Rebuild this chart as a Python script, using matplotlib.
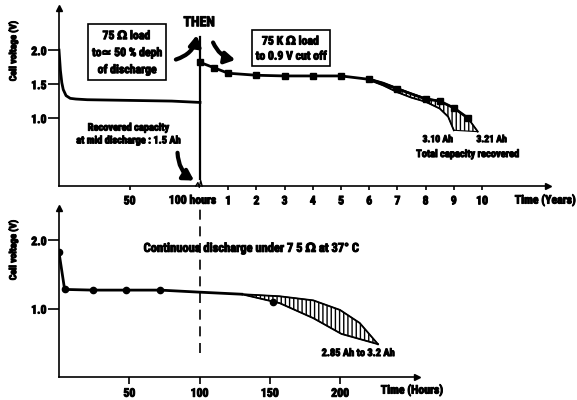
import numpy as np
import matplotlib
matplotlib.use('Agg')
import matplotlib.pyplot as plt
import matplotlib.patheffects as pe
from matplotlib.lines import Line2D
from matplotlib.text import Text

plt.rcParams['font.family'] = ['Roboto Condensed', 'Liberation Sans Narrow', 'DejaVu Sans']
plt.rcParams['font.weight'] = 'bold'

# --- upper panel: 75 ohm load for ~100 hours, then 75 kohm load for years ---
hours_a = [0, 0.5, 1, 2, 3, 5, 8, 12, 20, 50, 80, 100]
volts_a = [2.0, 1.85, 1.7, 1.52, 1.42, 1.33, 1.29, 1.28, 1.27, 1.26, 1.25, 1.23]

years_b = [0, 0.5, 1, 2, 3, 4, 5, 6, 7, 8, 8.5, 9, 9.5]
volts_b = [1.82, 1.74, 1.66, 1.63, 1.62, 1.62, 1.62, 1.57, 1.43, 1.28, 1.25, 1.15, 1.0]

band_up_years = [6, 6.5, 7, 7.5, 8, 8.5, 9, 9.5, 9.85]
band_up_volts = [1.58, 1.52, 1.44, 1.36, 1.29, 1.25, 1.15, 1.0, 0.80]
band_lo_years = [6, 6.5, 7, 7.5, 8, 8.5, 8.8, 9.0]
band_lo_volts = [1.56, 1.48, 1.38, 1.30, 1.24, 1.14, 1.02, 0.82]

year_ticks = [1, 2, 3, 4, 5, 6, 7, 8, 9, 10]

# --- lower panel: continuous discharge under 75 ohm at 37 C ---
hours_c = [0, 4, 24, 48, 72, 100, 130]
volts_c = [1.82, 1.28, 1.27, 1.27, 1.27, 1.24, 1.21]
mark_hours_c = [0, 4, 24, 48, 72, 152]
mark_volts_c = [1.82, 1.28, 1.27, 1.27, 1.27, 1.10]

band2_up_hours = [130, 157, 181, 200, 214, 227]
band2_up_volts = [1.21, 1.18, 1.12, 0.98, 0.79, 0.48]
band2_lo_hours = [130, 157, 181, 201]
band2_lo_volts = [1.21, 1.08, 0.86, 0.63]


def yr(a):
    # years are drawn after the 100 hour break, 20 axis units per year
    return 100 + 20 * np.asarray(a, dtype=float)


def style_axes(ax):
    for s in ['top', 'right']:
        ax.spines[s].set_visible(False)
    for s in ['left', 'bottom']:
        ax.spines[s].set_linewidth(1.2)
    ax.plot(0, 1, '^k', ms=4, transform=ax.get_xaxis_transform(), clip_on=False)
    ax.plot(1, 0, '>k', ms=4, transform=ax.get_yaxis_transform(), clip_on=False)
    ax.tick_params(axis='both', direction='out', width=1.2, labelsize=8.5)
    for lab in ax.get_xticklabels() + ax.get_yticklabels():
        lab.set_fontweight('bold')


fig = plt.figure(figsize=(5.77, 4.0), dpi=100)

# ---------------- upper panel ----------------
ax1 = fig.add_axes([59 / 577, 1 - 186 / 400, 489 / 577, 178 / 400])
ax1.set_xlim(0, 346.8)
ax1.set_ylim(0, 2.62)

ax1.plot(hours_a, volts_a, color='k', lw=2)
ax1.plot(yr(years_b), volts_b, color='k', lw=2, marker='s', ms=4)
ax1.plot(yr(band_up_years), band_up_volts, color='k', lw=1.3)
ax1.plot(yr(band_lo_years), band_lo_volts, color='k', lw=1.3)
ax1.fill(np.concatenate([yr(band_up_years), yr(band_lo_years)[::-1]]),
         np.concatenate([band_up_volts, band_lo_volts[::-1]]),
         fill=False, hatch='||||', lw=0.8, edgecolor='k')

# switch of load at the end of the hours scale
ax1.plot([100, 100], [0.1, 2.2], color='k', lw=1.6)
ax1.plot([97, 98.5, 99.5, 100.5, 101.5], [0.0, 0.05, -0.02, 0.08, 0.0],
         color='k', lw=1, clip_on=False)

ax1.set_yticks([1.0, 1.5, 2.0])
ax1.set_yticklabels(['1.0', '1.5', '2.0'])
ax1.set_xticks([50] + list(yr(year_ticks)))
ax1.set_xticklabels(['50'] + [str(t) for t in year_ticks])
style_axes(ax1)
ax1.tick_params(axis='x', length=3, pad=3)
ax1.tick_params(axis='y', length=8, pad=1)

ax1.text(94.5, -0.08, '100 hours', transform=ax1.get_xaxis_transform(),
         ha='center', va='center', fontsize=8.5, fontweight='bold')
fig.text(0.998, 1 - 200 / 400, 'Time (Years)', ha='right', va='center',
         fontsize=8.5, fontweight='bold')

ax1.text(48.2, 1.97, '75 $\\Omega$ load\nto\u2243 50 % deph\nof discharge',
         ha='center', va='center', fontsize=8.5, fontweight='bold', linespacing=1.4,
         bbox=dict(boxstyle='square,pad=0.35', fc='white', ec='k', lw=1.2))
ax1.text(99.3, 2.41, 'THEN', ha='center', va='center', fontsize=10, fontweight='bold')
ax1.text(164.5, 2.03, '75 K $\\Omega$ load\nto 0.9 V cut off',
         ha='center', va='center', fontsize=8.5, fontweight='bold', linespacing=1.2,
         bbox=dict(boxstyle='square,pad=0.3', fc='white', ec='k', lw=1.2))
ax1.text(48.9, 0.765, 'Recovered capacity\nat mid discharge : 1.5 Ah',
         ha='center', va='center', fontsize=7.5, fontweight='bold', linespacing=1.35)
ax1.text(268.8, 0.69, '3.10 Ah', ha='center', va='center', fontsize=7, fontweight='bold')
ax1.text(307, 0.69, '3.21 Ah', ha='center', va='center', fontsize=7, fontweight='bold')
ax1.text(289.4, 0.47, 'Total capacity recovered', ha='center', va='center',
         fontsize=7.5, fontweight='bold')

arrow = dict(arrowstyle='-|>,head_length=0.6,head_width=0.35', color='k', lw=3)
ax1.annotate('', xy=(97.9, 2.26), xytext=(81, 1.85),
             arrowprops=dict(connectionstyle='arc3,rad=0.35', **arrow))
ax1.annotate('', xy=(127, 1.85), xytext=(108.5, 2.15),
             arrowprops=dict(connectionstyle='arc3,rad=0.3', **arrow))
ax1.annotate('', xy=(97.5, 0.06), xytext=(84, 0.53),
             arrowprops=dict(connectionstyle='arc3,rad=0.3', **arrow))

# ---------------- lower panel ----------------
ax2 = fig.add_axes([59 / 577, 1 - 377 / 400, 358 / 577, 169 / 400])
ax2.set_xlim(0, 254.8)
ax2.set_ylim(0, 2.47)

ax2.plot(hours_c, volts_c, color='k', lw=2)
ax2.plot(mark_hours_c, mark_volts_c, 'o', color='k', ms=4.5)
ax2.plot(band2_up_hours, band2_up_volts, color='k', lw=1.3)
ax2.plot(band2_lo_hours + [band2_up_hours[-1]], band2_lo_volts + [band2_up_volts[-1]],
         color='k', lw=1.3)
ax2.fill(band2_up_hours + band2_lo_hours[::-1], band2_up_volts + band2_lo_volts[::-1],
         fill=False, hatch='||||', lw=0.8, edgecolor='k')

ax2.add_line(Line2D([100, 100], [0.35, 2.54], color='k', lw=1.2,
                    linestyle=(0, (6, 4)), clip_on=False))

ax2.set_yticks([1.0, 2.0])
ax2.set_yticklabels(['1.0', '2.0'])
ax2.set_xticks([50, 100, 150, 200])
ax2.set_xticklabels(['50', '100', '150', '200'])
style_axes(ax2)
ax2.tick_params(axis='x', length=5, pad=2)
ax2.tick_params(axis='y', length=8, pad=1)

ax2.text(229, -0.077, 'Time (Hours)', transform=ax2.get_xaxis_transform(),
         ha='left', va='center', fontsize=8.5, fontweight='bold')
ax2.text(137.4, 1.88, 'Continuous discharge under 7 5 $\\Omega$ at 37\u00b0 C',
         ha='center', va='center', fontsize=9, fontweight='bold')
ax2.text(212.8, 0.35, '2.85 Ah to 3.2 Ah', ha='center', va='center',
         fontsize=7.5, fontweight='bold')

# y labels
fig.text(13 / 577, 1 - 51 / 400, 'Cell voltage (V)', rotation=90, ha='center',
         va='center', fontsize=7, fontweight='bold')
fig.text(13 / 577, 1 - 250 / 400, 'Cell voltage (V)', rotation=90, ha='center',
         va='center', fontsize=7, fontweight='bold')

# heavy lettering
for t in fig.findobj(Text):
    t.set_path_effects([pe.withStroke(linewidth=0.7, foreground='k')])

fig.savefig('out.png', dpi=100)
